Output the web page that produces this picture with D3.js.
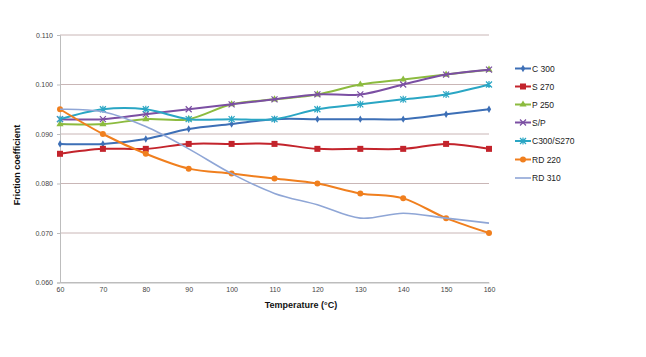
<!DOCTYPE html>
<html><head><meta charset="utf-8">
<script src="https://cdn.jsdelivr.net/npm/d3@7"></script>
<style>html,body{margin:0;padding:0;background:#fff;}svg{display:block;font-family:"Liberation Sans",Arial,sans-serif;}</style>
</head><body><svg id="c" width="646" height="357"></svg>
<script>
const temperatures = [60,70,80,90,100,110,120,130,140,150,160];
const yTicks = [0.060,0.070,0.080,0.090,0.100,0.110];
const seriesNames = ["C 300","S 270","P 250","S/P","C300/S270","RD 220","RD 310"];
const c300   = [0.088,0.088,0.089,0.091,0.092,0.093,0.093,0.093,0.093,0.094,0.095];
const s270   = [0.086,0.087,0.087,0.088,0.088,0.088,0.087,0.087,0.087,0.088,0.087];
const p250   = [0.092,0.092,0.093,0.093,0.096,0.097,0.098,0.100,0.101,0.102,0.103];
const sp     = [0.093,0.093,0.094,0.095,0.096,0.097,0.098,0.098,0.100,0.102,0.103];
const c300s270 = [0.093,0.095,0.095,0.093,0.093,0.093,0.095,0.096,0.097,0.098,0.100];
const rd220  = [0.095,0.090,0.086,0.083,0.082,0.081,0.080,0.078,0.077,0.073,0.070];
const rd310  = [0.095,0.0945,0.0915,0.087,0.082,0.078,0.0757,0.073,0.074,0.073,0.072];
const colors = ["#3d6fb6","#c3242c","#8cbb3f","#7b4fa3","#2aa6c4","#f07f1e","#8fa6d6"];
const markers = ["diamond","square","triangle","cross","star","circle",null];
const allValues = [c300,s270,p250,sp,c300s270,rd220,rd310];

const svg = d3.select("#c");
const x = d3.scaleLinear().domain([60,160]).range([60,489]);
const y = d3.scaleLinear().domain([0.060,0.110]).range([282.5,35]);

// gridlines
svg.append("g").selectAll("line").data(yTicks).join("line")
  .attr("x1",60).attr("x2",489).attr("y1",d=>y(d)).attr("y2",d=>y(d))
  .attr("stroke",d=>d===0.060?"#bdbdbd":"#c9b6b6").attr("stroke-width",1);

// axes
const ya = svg.append("g").attr("transform","translate(60,0)")
  .call(d3.axisLeft(y).tickValues(yTicks).tickFormat(d3.format(".3f")).tickSize(3).tickPadding(4));
ya.select(".domain").attr("stroke","#bdbdbd");
ya.selectAll(".tick line").attr("stroke","#bdbdbd");
ya.selectAll("text").attr("font-size",7).attr("fill","#444");
const xa = svg.append("g").attr("transform","translate(0,282.5)")
  .call(d3.axisBottom(x).tickValues(temperatures).tickFormat(d3.format("d")).tickSize(0).tickPadding(5));
xa.select(".domain").attr("stroke","#bdbdbd");
xa.selectAll("text").attr("font-size",7).attr("fill","#444");

svg.append("text").attr("x",301).attr("y",308).attr("text-anchor","middle")
  .attr("font-size",9).attr("font-weight","bold").attr("fill","#111").text("Temperature (°C)");
svg.append("text").attr("transform","translate(20,165) rotate(-90)").attr("text-anchor","middle")
  .attr("font-size",9).attr("font-weight","bold").attr("fill","#111").text("Friction coefficient");

const line = d3.line().x(d=>x(d[0])).y(d=>y(d[1])).curve(d3.curveCatmullRom.alpha(0));

function drawMarker(g,type,cx,cy,col){
  if(type==="diamond"){
    g.append("path").attr("d",d3.symbol(d3.symbolDiamond,16)(null)).attr("transform",`translate(${cx},${cy})`).attr("fill",col);
  } else if(type==="square"){
    g.append("rect").attr("x",cx-3).attr("y",cy-3).attr("width",6).attr("height",6).attr("fill",col);
  } else if(type==="triangle"){
    g.append("path").attr("d",d3.symbol(d3.symbolTriangle,22)(null)).attr("transform",`translate(${cx},${cy})`).attr("fill",col);
  } else if(type==="cross"){
    g.append("path").attr("d",`M${cx-3},${cy-3}L${cx+3},${cy+3}M${cx-3},${cy+3}L${cx+3},${cy-3}`).attr("stroke",col).attr("stroke-width",1.2);
  } else if(type==="star"){
    g.append("path").attr("d",`M${cx-3},${cy-3}L${cx+3},${cy+3}M${cx-3},${cy+3}L${cx+3},${cy-3}M${cx},${cy-3.5}L${cx},${cy+3.5}`).attr("stroke",col).attr("stroke-width",1.2);
  } else if(type==="circle"){
    g.append("circle").attr("cx",cx).attr("cy",cy).attr("r",3).attr("fill",col);
  }
}

allValues.forEach((vals,i)=>{
  const g = svg.append("g");
  const pts = temperatures.map((t,j)=>[t,vals[j]]);
  g.append("path").attr("d",line(pts)).attr("fill","none").attr("stroke",colors[i]).attr("stroke-width",i===6?1.6:2);
  if(markers[i]) pts.forEach(p=>drawMarker(g,markers[i],x(p[0]),y(p[1]),colors[i]));
});

// legend
const ly = [68.5,86.5,104.5,122.5,141,159.5,178];
seriesNames.forEach((n,i)=>{
  const g = svg.append("g");
  g.append("line").attr("x1",515).attr("x2",531).attr("y1",ly[i]).attr("y2",ly[i]).attr("stroke",colors[i]).attr("stroke-width",i===6?1.6:2);
  if(markers[i]) drawMarker(g,markers[i],523,ly[i],colors[i]);
  g.append("text").attr("x",532).attr("y",ly[i]+3).attr("font-size",8.5).attr("fill","#222").text(n);
});
</script></body></html>
